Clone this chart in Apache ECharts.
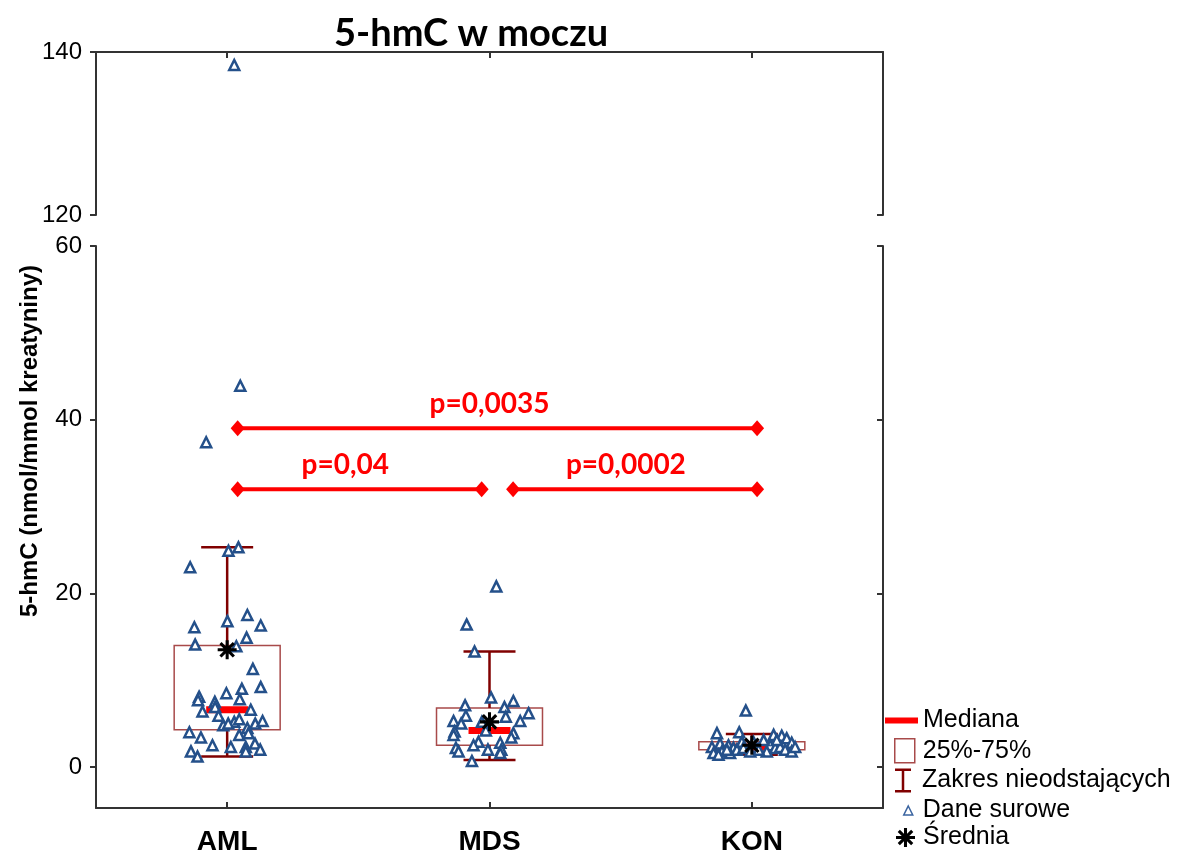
<!DOCTYPE html>
<html>
<head>
<meta charset="utf-8">
<script src="https://cdn.jsdelivr.net/npm/echarts@6/dist/echarts.min.js"></script>
<style>
  html, body { margin: 0; padding: 0; background: #fff; }
  #chart { width: 1181px; height: 852px; }
</style>
</head>
<body>
<div id="chart"></div>
<script>
// grupy i statystyki boxplotu
const groups = ['AML', 'MDS', 'KON'];
const q1 = [4.3, 2.5, 2.0];
const q3 = [14.0, 6.8, 2.9];
const medians = [6.6, 4.2, 2.3];
const whiskerLow = [1.2, 0.8, 1.4];
const whiskerHigh = [25.3, 13.3, 3.8];
const means = [13.5, 5.2, 2.5];

// dane surowe (wartosc + rozrzut poziomy wokol srodka grupy)
const amlValues = [24.9, 25.3, 23.0, 16.8, 17.5, 16.1, 16.3, 14.9, 14.1, 13.9, 11.3, 9.2, 8.1, 7.7, 8.5, 9.0,
  7.8, 7.5, 6.4, 6.9, 6.6, 5.9, 4.8, 5.2, 5.5, 5.0, 5.0, 5.3, 3.7, 4.5, 3.9, 4.0, 3.4, 2.5, 2.3, 2.3, 2.7,
  2.0, 1.8, 1.2, 1.8, 37.4, 43.9];
const amlJitter = [0.005, 0.043, -0.141, 0.001, 0.077, -0.125, 0.128, 0.074, -0.122, 0.035, 0.098, 0.128, -0.107,
  -0.111, -0.003, 0.056, 0.048, -0.047, -0.094, -0.046, 0.090, -0.033, -0.015, 0.027, 0.046, 0.004, 0.107, 0.135,
  0.046, 0.077, 0.081, -0.144, -0.100, -0.056, 0.014, 0.071, 0.106, 0.126, -0.138, -0.113, 0.071, -0.080, 0.050];
const amlTopValues = [138.4];
const amlTopJitter = [0.027];
const mdsValues = [20.8, 16.4, 13.3, 8.0, 7.6, 7.1, 6.9, 6.2, 5.9, 5.8, 5.3, 5.3, 5.0, 5.2, 4.1, 3.7, 4.2, 3.9,
  3.4, 2.9, 2.5, 2.8, 2.0, 2.0, 2.2, 1.8, 1.6, 0.7];
const mdsJitter = [0.026, -0.087, -0.057, 0.006, 0.091, -0.093, 0.057, 0.149, -0.090, 0.062, -0.137, 0.117, -0.108,
  -0.029, -0.133, -0.137, -0.014, 0.091, 0.083, -0.042, -0.061, 0.041, 0.045, -0.006, -0.128, -0.118, 0.041, -0.067];
const konValues = [6.5, 3.9, 4.0, 3.7, 3.6, 3.3, 2.8, 2.3, 2.7, 2.5, 2.2, 1.6, 1.8, 1.6, 2.0, 2.9, 2.5, 2.2, 2.3,
  1.8, 2.0, 1.8, 2.3, 2.9, 2.0, 1.4, 2.0, 2.2, 1.8, 3.1, 3.1];
const konJitter = [-0.023, -0.133, -0.048, 0.083, 0.114, 0.133, 0.152, -0.152, -0.121, -0.089, -0.070, -0.146, -0.114,
  -0.083, -0.057, -0.038, 0.070, 0.089, 0.108, 0.057, 0.127, 0.152, 0.165, 0.006, 0.026, -0.127, -0.095, -0.032,
  -0.006, 0.045, 0.095];

// porownania (p-wartosci)
const pLabels = ['p=0,0035', 'p=0,04', 'p=0,0002'];
const pLevels = [39, 32, 32];
const pFrom = [0.54, 0.54, 1.59];
const pTo = [2.52, 1.47, 2.52];
const pCenter = [1.5, 0.95, 2.02];

const centers = groups.map((g, i) => i + 0.5);
const AST = 'path://M-1.6,-10L1.6,-10L1.6,10L-1.6,10Z M-10,-1.6L10,-1.6L10,1.6L-10,1.6Z ' +
  'M-5.9,-8.2L8.2,5.9L5.9,8.2L-8.2,-5.9Z M5.9,-8.2L8.2,-5.9L-5.9,8.2L-8.2,5.9Z';

const rawBottom = [];
[[amlValues, amlJitter], [mdsValues, mdsJitter], [konValues, konJitter]].forEach(function (pair, i) {
  pair[0].forEach(function (v, k) { rawBottom.push([centers[i] + pair[1][k], v]); });
});
const rawTop = amlTopValues.map((v, k) => [centers[0] + amlTopJitter[k], v]);

const axisColor = '#333';
const font = 'Liberation Sans, Arial, sans-serif';

function boxItem(params, api) {
  const x = api.value(0);
  const a = api.coord([x - 0.202, api.value(2)]);
  const b = api.coord([x + 0.202, api.value(1)]);
  return {
    type: 'rect',
    shape: { x: a[0], y: a[1], width: b[0] - a[0], height: b[1] - a[1] },
    style: { fill: 'rgba(255,255,255,0)', stroke: '#a84a4a', lineWidth: 1.5 }
  };
}

function whiskerItem(params, api) {
  const x = api.value(0);
  const lo = api.coord([x, api.value(1)]);
  const b1 = api.coord([x, api.value(2)]);
  const b3 = api.coord([x, api.value(3)]);
  const hi = api.coord([x, api.value(4)]);
  const half = 26;
  const st = { stroke: '#800000', lineWidth: 2.5 };
  return {
    type: 'group',
    children: [
      { type: 'line', shape: { x1: hi[0], y1: hi[1], x2: b3[0], y2: b3[1] }, style: st },
      { type: 'line', shape: { x1: lo[0], y1: lo[1], x2: b1[0], y2: b1[1] }, style: st },
      { type: 'line', shape: { x1: hi[0] - half, y1: hi[1], x2: hi[0] + half, y2: hi[1] }, style: st },
      { type: 'line', shape: { x1: lo[0] - half, y1: lo[1], x2: lo[0] + half, y2: lo[1] }, style: st }
    ]
  };
}

function medianItem(params, api) {
  const x = api.value(0);
  const a = api.coord([x - 0.08, api.value(1)]);
  const b = api.coord([x + 0.08, api.value(1)]);
  return {
    type: 'rect',
    shape: { x: a[0], y: a[1] - 3.5, width: b[0] - a[0], height: 7 },
    style: { fill: '#ff0000' }
  };
}

function bracketItem(params, api) {
  const y = api.value(2);
  const a = api.coord([api.value(0), y]);
  const b = api.coord([api.value(1), y]);
  const c = api.coord([api.value(3), y]);
  const red = '#ff0000';
  function diamond(p) {
    return { type: 'polygon', shape: { points: [[p[0], p[1] - 8], [p[0] + 7, p[1]], [p[0], p[1] + 8], [p[0] - 7, p[1]]] }, style: { fill: red } };
  }
  return {
    type: 'group',
    children: [
      { type: 'line', shape: { x1: a[0], y1: a[1], x2: b[0], y2: b[1] }, style: { stroke: red, lineWidth: 4 } },
      diamond(a), diamond(b),
      {
        type: 'text', x: c[0], y: c[1] - 24,
        style: { text: pLabels[params.dataIndex], fill: red, font: 'bold 28px Lato, sans-serif', align: 'center', verticalAlign: 'middle' }
      }
    ]
  };
}

// jedna legenda na pozycje, zeby ikony mialy wlasne rozmiary
function legendAt(name, center, left, w, h, pad, icon, itemStyle) {
  return {
    data: [{ name: name, icon: icon, itemStyle: itemStyle }],
    left: left, top: center - 12, padding: 0,
    orient: 'vertical', itemWidth: w, itemHeight: h, selectedMode: false,
    textStyle: { fontFamily: font, fontSize: 25, color: '#000', lineHeight: 24, padding: [0, 0, 0, pad] }
  };
}

const chart = echarts.init(document.getElementById('chart'), null, { renderer: 'canvas' });

const option = {
  backgroundColor: '#fff',
  animation: false,
  title: {
    text: '5-hmC w moczu', left: 329, top: 10,
    textStyle: { fontFamily: 'Lato, sans-serif', fontWeight: 'bold', fontSize: 38, color: '#000' }
  },
  graphic: [{
    type: 'text', x: 30, y: 441, rotation: Math.PI / 2,
    style: { text: '5-hmC (nmol/mmol kreatyniny)', font: 'bold 24px ' + font, fill: '#000', align: 'center', verticalAlign: 'middle' }
  }],
  legend: [
    legendAt('Mediana', 720, 885, 33, 6, 0, 'path://M0,0H33V6H0Z', { color: '#ff0000' }),
    legendAt('25%-75%', 750, 894, 20, 24, 3, 'path://M0,0H20V24H0Z', { color: '#fff', borderColor: '#a84a4a', borderWidth: 1.5 }),
    legendAt('Zakres nieodstających', 780, 895, 16, 24, 6, 'path://M0,0H16V2.5H9.25V21.5H16V24H0V21.5H6.75V2.5H0Z', { color: '#800000' }),
    legendAt('Dane surowe', 810, 903, 9, 9, 5, 'triangle', { color: '#fff', borderColor: '#3a64a0', borderWidth: 1.5 }),
    legendAt('Średnia', 837, 896, 19, 19, 3, AST, { color: '#000' })
  ],
  grid: [
    { left: 96, right: 298, top: 52, height: 163, containLabel: false, outerBoundsMode: 'none' },
    { left: 96, right: 298, top: 246, bottom: 44, containLabel: false, outerBoundsMode: 'none' }
  ],
  xAxis: [
    {
      type: 'value', gridIndex: 0, position: 'top', min: 0, max: 3,
      axisLine: { show: true, onZero: false, lineStyle: { color: axisColor, width: 2 } },
      axisTick: { show: true, inside: true, length: 6, customValues: centers, lineStyle: { color: axisColor, width: 2 } },
      axisLabel: { show: false }, splitLine: { show: false }
    },
    {
      type: 'value', gridIndex: 1, position: 'bottom', min: 0, max: 3,
      axisLine: { show: true, onZero: false, lineStyle: { color: axisColor, width: 2 } },
      axisTick: { show: true, inside: true, length: 6, customValues: centers, lineStyle: { color: axisColor, width: 2 } },
      axisLabel: {
        show: true, customValues: centers, margin: 20,
        formatter: function (v) { return groups[Math.round(v - 0.5)]; },
        fontFamily: font, fontWeight: 'bold', fontSize: 28, color: '#000'
      },
      splitLine: { show: false }
    }
  ],
  yAxis: [
    {
      type: 'value', gridIndex: 0, position: 'left', min: 120, max: 140,
      axisLine: { show: true, onZero: false, lineStyle: { color: axisColor, width: 2 } },
      axisTick: { show: true, length: 6, customValues: [120, 140], lineStyle: { color: axisColor, width: 2 } },
      axisLabel: { customValues: [120, 140], margin: 14, fontFamily: font, fontSize: 24, color: '#000' },
      splitLine: { show: false }
    },
    {
      type: 'value', gridIndex: 0, position: 'right', min: 120, max: 140,
      axisLine: { show: true, onZero: false, lineStyle: { color: axisColor, width: 2 } },
      axisTick: { show: true, inside: true, length: 6, customValues: [120], lineStyle: { color: axisColor, width: 2 } },
      axisLabel: { show: false }, splitLine: { show: false }
    },
    {
      type: 'value', gridIndex: 1, position: 'left', min: -4.72, max: 60,
      axisLine: { show: true, onZero: false, lineStyle: { color: axisColor, width: 2 } },
      axisTick: { show: true, length: 6, customValues: [0, 20, 40, 60], lineStyle: { color: axisColor, width: 2 } },
      axisLabel: { customValues: [0, 20, 40, 60], margin: 14, fontFamily: font, fontSize: 24, color: '#000' },
      splitLine: { show: false }
    },
    {
      type: 'value', gridIndex: 1, position: 'right', min: -4.72, max: 60,
      axisLine: { show: true, onZero: false, lineStyle: { color: axisColor, width: 2 } },
      axisTick: { show: true, inside: true, length: 6, customValues: [0, 20, 40, 60], lineStyle: { color: axisColor, width: 2 } },
      axisLabel: { show: false }, splitLine: { show: false }
    }
  ],
  series: [
    {
      name: '25%-75%', type: 'custom', xAxisIndex: 1, yAxisIndex: 2, z: 2,
      renderItem: boxItem,
      data: groups.map((g, i) => [centers[i], q1[i], q3[i]])
    },
    {
      name: 'Zakres nieodstających', type: 'custom', xAxisIndex: 1, yAxisIndex: 2, z: 3,
      renderItem: whiskerItem,
      data: groups.map((g, i) => [centers[i], whiskerLow[i], q1[i], q3[i], whiskerHigh[i]])
    },
    {
      name: 'Mediana', type: 'custom', xAxisIndex: 1, yAxisIndex: 2, z: 4,
      renderItem: medianItem,
      data: groups.map((g, i) => [centers[i], medians[i]])
    },
    {
      name: 'Dane surowe', type: 'scatter', xAxisIndex: 1, yAxisIndex: 2, z: 5,
      symbol: 'triangle', symbolSize: 10,
      itemStyle: { color: '#fff', borderColor: '#24508a', borderWidth: 2.5, opacity: 1 },
      data: rawBottom
    },
    {
      name: 'Dane surowe', type: 'scatter', xAxisIndex: 0, yAxisIndex: 0, z: 5,
      symbol: 'triangle', symbolSize: 10,
      itemStyle: { color: '#fff', borderColor: '#24508a', borderWidth: 2.5, opacity: 1 },
      data: rawTop
    },
    {
      name: 'Średnia', type: 'scatter', xAxisIndex: 1, yAxisIndex: 2, z: 6,
      symbol: AST, symbolSize: 19,
      itemStyle: { color: '#000', opacity: 1 },
      data: groups.map((g, i) => [centers[i], means[i]])
    },
    {
      name: 'p', type: 'custom', xAxisIndex: 1, yAxisIndex: 2, z: 7,
      renderItem: bracketItem,
      data: pLabels.map((t, i) => [pFrom[i], pTo[i], pLevels[i], pCenter[i]])
    }
  ]
};

chart.setOption(option);
</script>
</body>
</html>
